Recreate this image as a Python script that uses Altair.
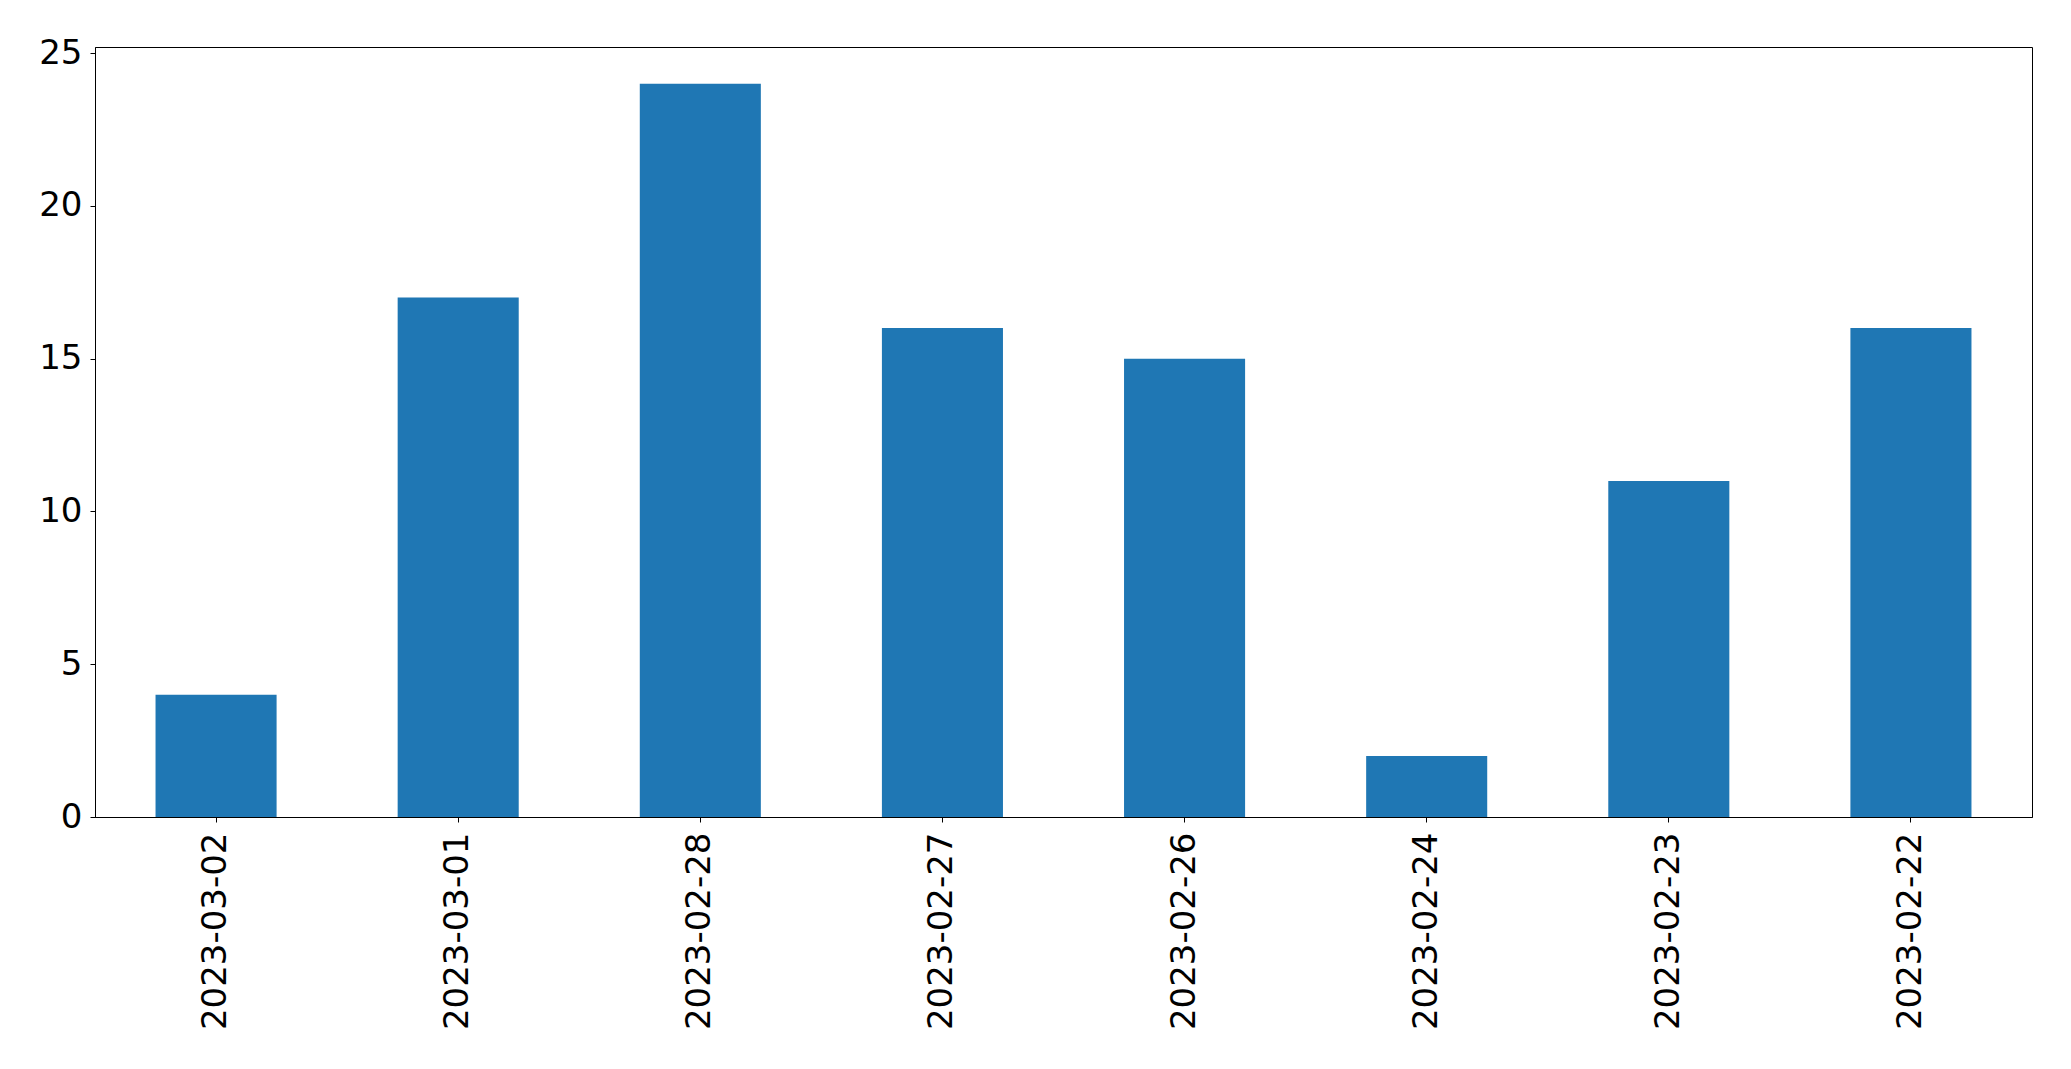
import altair as alt
import pandas as pd

dates = ["2023-03-02", "2023-03-01", "2023-02-28", "2023-02-27",
         "2023-02-26", "2023-02-24", "2023-02-23", "2023-02-22"]
counts = [4, 17, 24, 16, 15, 2, 11, 16]
y_ticks = [0, 5, 10, 15, 20, 25]

df = pd.DataFrame({"date": dates, "count": counts})

chart = alt.Chart(df).mark_bar(color="#1f77b4").encode(
    x=alt.X("date:N", sort=None, title=None,
            scale=alt.Scale(paddingInner=0.5, paddingOuter=0.25),
            axis=alt.Axis(labelAngle=270, labelFont="DejaVu Sans", labelFontSize=34,
                          labelColor="black", tickColor="black", tickSize=5,
                          labelPadding=10, labelLimit=0, domainColor="black", grid=False)),
    y=alt.Y("count:Q", title=None,
            scale=alt.Scale(domain=[0, 25.2], nice=False, zero=True),
            axis=alt.Axis(values=y_ticks, labelFont="DejaVu Sans", labelFontSize=34,
                          labelColor="black", tickColor="black", tickSize=5,
                          labelPadding=8, domainColor="black", grid=False)),
).properties(
    width=1937, height=770,
    autosize=alt.AutoSizeParams(type="none"),
    padding={"left": 87, "top": 39, "right": 24, "bottom": 236},
).configure_view(stroke="black", strokeWidth=1)

chart.save("out.html", embed_options={"renderer": "svg", "actions": False})
